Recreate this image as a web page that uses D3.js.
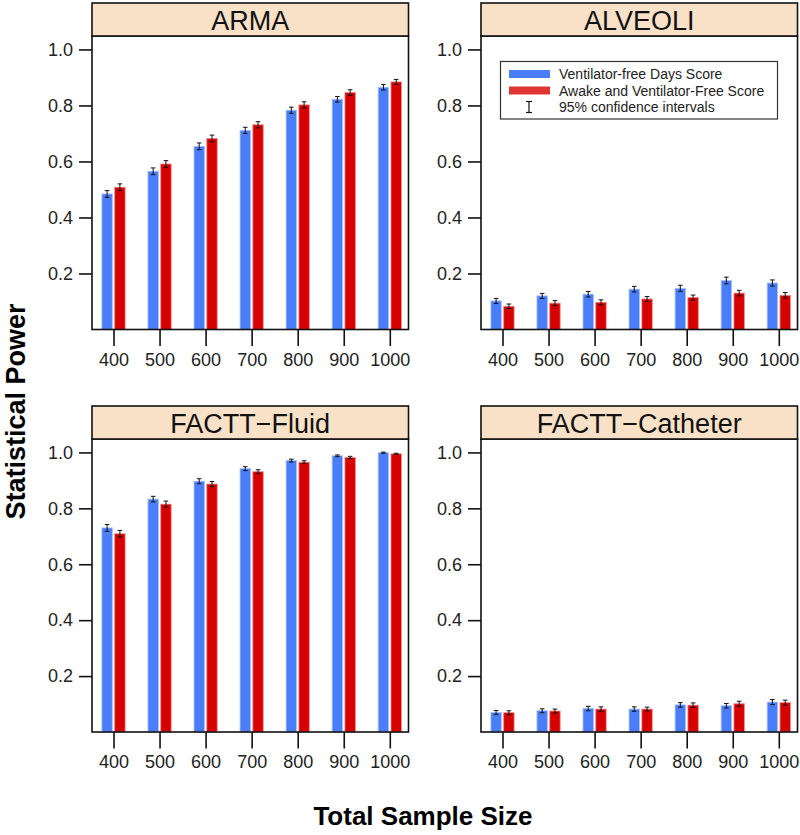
<!DOCTYPE html>
<html>
<head>
<meta charset="utf-8">
<script src="https://cdn.jsdelivr.net/npm/d3@7"></script>
<style>
  html, body { margin: 0; padding: 0; background: #fff; }
  svg { display: block; font-family: "Liberation Sans", Arial, sans-serif; }
</style>
</head>
<body>
<svg id="chart" width="800" height="835"></svg>
<script>
// ---------------- data ----------------
const sampleSizes = ["400", "500", "600", "700", "800", "900", "1000"];
const panelTitles = ["ARMA", "ALVEOLI", "FACTT\u2212Fluid", "FACTT\u2212Catheter"];
const seriesNames = ["Ventilator-free Days Score", "Awake and Ventilator-Free Score"];
const ciLabel = "95% confidence intervals";
const yTickValues = [0.2, 0.4, 0.6, 0.8, 1.0];

// power estimates (blue = Ventilator-free Days Score, red = Awake and Ventilator-Free Score)
const armaVFD      = [0.484, 0.565, 0.654, 0.711, 0.783, 0.822, 0.865];
const armaAVF      = [0.508, 0.591, 0.682, 0.731, 0.802, 0.846, 0.884];
const alveoliVFD   = [0.102, 0.120, 0.126, 0.144, 0.147, 0.175, 0.166];
const alveoliAVF   = [0.083, 0.094, 0.097, 0.109, 0.114, 0.130, 0.122];
const fluidVFD     = [0.730, 0.833, 0.897, 0.942, 0.971, 0.988, 0.999];
const fluidAVF     = [0.709, 0.815, 0.887, 0.931, 0.965, 0.982, 0.995];
const catheterVFD  = [0.070, 0.076, 0.084, 0.082, 0.097, 0.094, 0.107];
const catheterAVF  = [0.069, 0.075, 0.082, 0.082, 0.096, 0.101, 0.105];

// 95% CI half-widths
const armaVFDci     = [0.012, 0.012, 0.012, 0.011, 0.011, 0.010, 0.010];
const armaAVFci     = [0.012, 0.012, 0.012, 0.011, 0.011, 0.010, 0.009];
const alveoliVFDci  = [0.009, 0.009, 0.010, 0.010, 0.011, 0.012, 0.011];
const alveoliAVFci  = [0.008, 0.009, 0.009, 0.009, 0.009, 0.010, 0.010];
const fluidVFDci    = [0.012, 0.010, 0.009, 0.007, 0.005, 0.003, 0.002];
const fluidAVFci    = [0.012, 0.011, 0.009, 0.007, 0.005, 0.004, 0.002];
const catheterVFDci = [0.007, 0.007, 0.008, 0.008, 0.008, 0.008, 0.009];
const catheterAVFci = [0.007, 0.007, 0.008, 0.007, 0.008, 0.009, 0.009];

const panelValues = [[armaVFD, armaAVF], [alveoliVFD, alveoliAVF], [fluidVFD, fluidAVF], [catheterVFD, catheterAVF]];
const panelCIs = [[armaVFDci, armaAVFci], [alveoliVFDci, alveoliAVFci], [fluidVFDci, fluidAVFci], [catheterVFDci, catheterAVFci]];

// ---------------- styles / layout ----------------
const colors = ["#4a7ef8", "#d70000"];
const barStroke = ["#a9c0fb", "#ee8a8a"];
const stripFill = "#f8e1c6";
const colX = [92, 481];
const panelW = 316.5;
const stripTop = [3, 406];
const stripH = 33;
const plotBottom = [329.5, 732];
const xPadL = 21.5, xStep = 46.05;
const barW = 10.4, barGap = 2.4;

const svg = d3.select("#chart");

panelTitles.forEach((title, p) => {
  const col = p % 2, row = Math.floor(p / 2);
  const x0 = colX[col];
  const top = stripTop[row] + stripH;
  const bottom = plotBottom[row];

  const x = d3.scalePoint().domain(sampleSizes)
    .range([x0 + xPadL, x0 + xPadL + xStep * (sampleSizes.length - 1)]);
  const y = d3.scaleLinear().domain([0, 1.048]).range([bottom, top]);

  const g = svg.append("g");

  // bars
  [0, 1].forEach(s => {
    const vals = panelValues[p][s];
    const cis = panelCIs[p][s];
    const off = s === 0 ? -(barGap / 2 + barW) : barGap / 2;
    g.append("g").selectAll("rect")
      .data(vals)
      .join("rect")
      .attr("x", (d, i) => x(sampleSizes[i]) + off)
      .attr("y", d => y(d))
      .attr("width", barW)
      .attr("height", d => y(0) - y(d))
      .attr("fill", colors[s])
      .attr("stroke", barStroke[s])
      .attr("stroke-width", 0.8);

    // error bars
    const eb = g.append("g").attr("stroke", "#111").attr("stroke-width", 1);
    vals.forEach((d, i) => {
      const cx = x(sampleSizes[i]) + off + barW / 2;
      const lo = y(d - cis[i]), hi = y(d + cis[i]);
      eb.append("line").attr("x1", cx).attr("x2", cx).attr("y1", lo).attr("y2", hi);
      eb.append("line").attr("x1", cx - 2.3).attr("x2", cx + 2.3).attr("y1", lo).attr("y2", lo);
      eb.append("line").attr("x1", cx - 2.3).attr("x2", cx + 2.3).attr("y1", hi).attr("y2", hi);
    });
  });

  // panel frame
  g.append("rect")
    .attr("x", x0).attr("y", top)
    .attr("width", panelW).attr("height", bottom - top)
    .attr("fill", "none").attr("stroke", "#111").attr("stroke-width", 1.6);

  // strip
  g.append("rect")
    .attr("x", x0).attr("y", stripTop[row])
    .attr("width", panelW).attr("height", stripH)
    .attr("fill", stripFill).attr("stroke", "#111").attr("stroke-width", 1.6);
  g.append("text")
    .attr("x", x0 + panelW / 2).attr("y", stripTop[row] + 26.5)
    .attr("text-anchor", "middle")
    .attr("font-size", 27)
    .attr("fill", "#111")
    .text(title);

  // y axis
  const yAxis = d3.axisLeft(y).tickValues(yTickValues).tickFormat(d3.format(".1f"))
    .tickSize(13).tickPadding(6);
  const ya = g.append("g").attr("transform", `translate(${x0},0)`).call(yAxis);
  ya.select(".domain").remove();
  ya.selectAll(".tick line").attr("stroke", "#111").attr("stroke-width", 1.6);
  ya.selectAll(".tick text").attr("font-size", 18).attr("fill", "#222")
    .attr("font-family", "Liberation Sans, Arial, sans-serif");

  // x axis
  const xAxis = d3.axisBottom(x).tickSize(16.5).tickPadding(7);
  const xa = g.append("g").attr("transform", `translate(0,${bottom})`).call(xAxis);
  xa.select(".domain").remove();
  xa.selectAll(".tick line").attr("stroke", "#111").attr("stroke-width", 1.6);
  xa.selectAll(".tick text").attr("font-size", 18).attr("fill", "#222")
    .attr("font-family", "Liberation Sans, Arial, sans-serif");
});

// legend (inside ALVEOLI panel)
const lg = svg.append("g");
lg.append("rect").attr("x", 500.5).attr("y", 61.5).attr("width", 277).attr("height", 57.5)
  .attr("fill", "#fff").attr("stroke", "#333").attr("stroke-width", 1.2);
const legendRows = [74, 90.5, 107];
[0, 1].forEach(s => {
  lg.append("rect").attr("x", 509).attr("y", legendRows[s] - 4).attr("width", 41).attr("height", 8)
    .attr("fill", s === 0 ? colors[0] : "#e03535");
  lg.append("text").attr("x", 559).attr("y", legendRows[s] + 5)
    .attr("font-size", 14).attr("fill", "#222").text(seriesNames[s]);
});
const iy = legendRows[2];
const ig = lg.append("g").attr("stroke", "#111").attr("stroke-width", 1.2);
ig.append("line").attr("x1", 529).attr("x2", 529).attr("y1", iy - 5.5).attr("y2", iy + 5.5);
ig.append("line").attr("x1", 526).attr("x2", 532).attr("y1", iy - 5.5).attr("y2", iy - 5.5);
ig.append("line").attr("x1", 526).attr("x2", 532).attr("y1", iy + 5.5).attr("y2", iy + 5.5);
lg.append("text").attr("x", 559).attr("y", iy + 5)
  .attr("font-size", 14).attr("fill", "#222").text(ciLabel);

// axis titles
svg.append("text")
  .attr("transform", "translate(25,411.5) rotate(-90)")
  .attr("text-anchor", "middle")
  .attr("font-size", 27).attr("font-weight", "bold").attr("fill", "#000")
  .text("Statistical Power");
svg.append("text")
  .attr("x", 423).attr("y", 825)
  .attr("text-anchor", "middle")
  .attr("font-size", 26).attr("font-weight", "bold").attr("fill", "#000")
  .text("Total Sample Size");
</script>
</body>
</html>
